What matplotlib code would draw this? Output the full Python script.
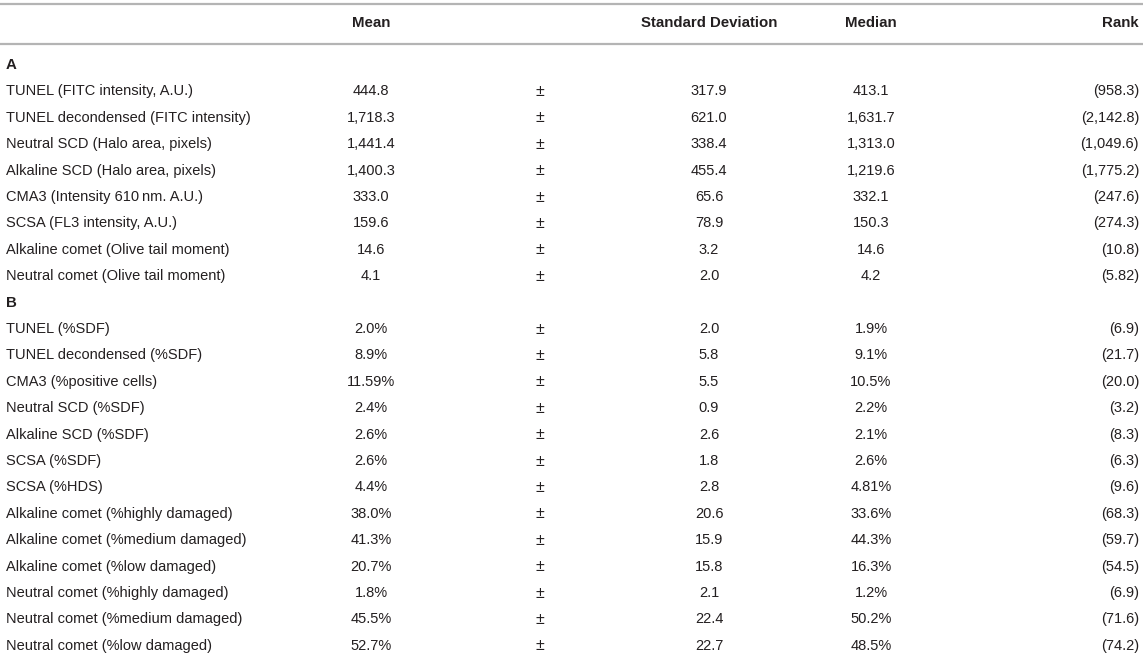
import matplotlib
matplotlib.use("Agg")
import matplotlib.pyplot as plt

# ---- data ----
columns = ["Mean", "Standard Deviation", "Median", "Rank"]

labels_a = [
    "TUNEL (FITC intensity, A.U.)",
    "TUNEL decondensed (FITC intensity)",
    "Neutral SCD (Halo area, pixels)",
    "Alkaline SCD (Halo area, pixels)",
    "CMA3 (Intensity 610\u2009nm. A.U.)",
    "SCSA (FL3 intensity, A.U.)",
    "Alkaline comet (Olive tail moment)",
    "Neutral comet (Olive tail moment)",
]
mean_a = ["444.8", "1,718.3", "1,441.4", "1,400.3", "333.0", "159.6", "14.6", "4.1"]
sd_a = ["317.9", "621.0", "338.4", "455.4", "65.6", "78.9", "3.2", "2.0"]
median_a = ["413.1", "1,631.7", "1,313.0", "1,219.6", "332.1", "150.3", "14.6", "4.2"]
rank_a = ["(958.3)", "(2,142.8)", "(1,049.6)", "(1,775.2)", "(247.6)", "(274.3)", "(10.8)", "(5.82)"]

labels_b = [
    "TUNEL (%SDF)",
    "TUNEL decondensed (%SDF)",
    "CMA3 (%positive cells)",
    "Neutral SCD (%SDF)",
    "Alkaline SCD (%SDF)",
    "SCSA (%SDF)",
    "SCSA (%HDS)",
    "Alkaline comet (%highly damaged)",
    "Alkaline comet (%medium damaged)",
    "Alkaline comet (%low damaged)",
    "Neutral comet (%highly damaged)",
    "Neutral comet (%medium damaged)",
    "Neutral comet (%low damaged)",
]
mean_b = ["2.0%", "8.9%", "11.59%", "2.4%", "2.6%", "2.6%", "4.4%", "38.0%", "41.3%", "20.7%", "1.8%", "45.5%", "52.7%"]
sd_b = ["2.0", "5.8", "5.5", "0.9", "2.6", "1.8", "2.8", "20.6", "15.9", "15.8", "2.1", "22.4", "22.7"]
median_b = ["1.9%", "9.1%", "10.5%", "2.2%", "2.1%", "2.6%", "4.81%", "33.6%", "44.3%", "16.3%", "1.2%", "50.2%", "48.5%"]
rank_b = ["(6.9)", "(21.7)", "(20.0)", "(3.2)", "(8.3)", "(6.3)", "(9.6)", "(68.3)", "(59.7)", "(54.5)", "(6.9)", "(71.6)", "(74.2)"]

sections = [
    ("A", labels_a, mean_a, sd_a, median_a, rank_a),
    ("B", labels_b, mean_b, sd_b, median_b, rank_b),
]

# ---- style / layout ----
W, H = 1143, 658
plt.rcParams["font.family"] = ["Liberation Sans", "DejaVu Sans"]
TXT = "#231f20"
LINE = "#b4b4b4"
FS = 10.5
FSH = 10.8

fig = plt.figure(figsize=(W / 100, H / 100), dpi=100)
ax = fig.add_axes([0, 0, 1, 1])
ax.set_xlim(0, W)
ax.set_ylim(H, 0)
ax.axis("off")

x_label = 6
x_mean = 371
x_pm = 540
x_sd = 709
x_med = 871
x_rank = 1139

# rules
for y in (3.5, 44):
    ax.plot([0, W], [y, y], color=LINE, lw=1.6, solid_capstyle="butt")

# header
hy = 23
ax.text(x_mean, hy, columns[0], ha="center", va="center", fontsize=FSH, fontweight="bold", color=TXT)
ax.text(x_sd, hy, columns[1], ha="center", va="center", fontsize=FSH, fontweight="bold", color=TXT)
ax.text(x_med, hy, columns[2], ha="center", va="center", fontsize=FSH, fontweight="bold", color=TXT)
ax.text(x_rank, hy, columns[3], ha="right", va="center", fontsize=FSH, fontweight="bold", color=TXT)

y0 = 65
step = 26.4
row = 0
for name, labels, means, sds, meds, ranks in sections:
    y = y0 + row * step
    ax.text(x_label, y, name, ha="left", va="center", fontsize=FSH, fontweight="bold", color=TXT)
    row += 1
    for lab, m, s, md, r in zip(labels, means, sds, meds, ranks):
        y = y0 + row * step
        ax.text(x_label, y, lab, ha="left", va="center", fontsize=FS, color=TXT)
        ax.text(x_mean, y, m, ha="center", va="center", fontsize=FS, color=TXT)
        ax.text(x_pm, y, "\u00b1", ha="center", va="center", fontsize=FS + 1, color=TXT)
        ax.text(x_sd, y, s, ha="center", va="center", fontsize=FS, color=TXT)
        ax.text(x_med, y, md, ha="center", va="center", fontsize=FS, color=TXT)
        ax.text(x_rank, y, r, ha="right", va="center", fontsize=FS, color=TXT)
        row += 1

fig.savefig("out.png", dpi=100, facecolor="white")
